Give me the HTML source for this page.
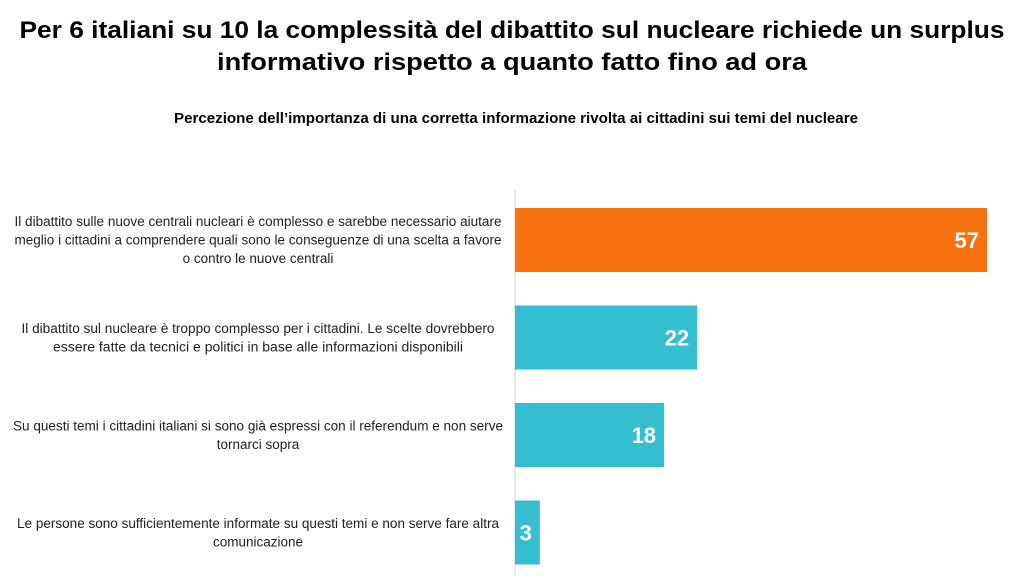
<!DOCTYPE html>
<html><head><meta charset="utf-8"><style>
body{margin:0;background:#fff;}
svg{display:block;font-family:"Liberation Sans",sans-serif;}
</style></head><body>
<svg id="chart" width="1024" height="576">
<text x="512" y="38" text-anchor="middle" font-size="24" font-weight="bold" fill="#000" textLength="985" lengthAdjust="spacingAndGlyphs">Per 6 italiani su 10 la complessità del dibattito sul nucleare richiede un surplus</text>
<text x="512" y="70" text-anchor="middle" font-size="24" font-weight="bold" fill="#000" textLength="590" lengthAdjust="spacingAndGlyphs">informativo rispetto a quanto fatto fino ad ora</text>
<text x="516" y="123" text-anchor="middle" font-size="14.5" font-weight="bold" fill="#000" textLength="684" lengthAdjust="spacingAndGlyphs">Percezione dell’importanza di una corretta informazione rivolta ai cittadini sui temi del nucleare</text>
<line x1="515" y1="190" x2="515" y2="576" stroke="#d0d0d0" stroke-width="1"/>
<g id="bars"></g>
<g id="labels"></g>
</svg>
<script>
const categories=[
 ["Il dibattito sulle nuove centrali nucleari è complesso e sarebbe necessario aiutare","meglio i cittadini a comprendere quali sono le conseguenze di una scelta a favore","o contro le nuove centrali"],
 ["Il dibattito sul nucleare è troppo complesso per i cittadini. Le scelte dovrebbero","essere fatte da tecnici e politici in base alle informazioni disponibili"],
 ["Su questi temi i cittadini italiani si sono già espressi con il referendum e non serve","tornarci sopra"],
 ["Le persone sono sufficientemente informate su questi temi e non serve fare altra","comunicazione"]
];
const values=[57,22,18,3];
const colors=["#F7720F","#34BFD0","#34BFD0","#34BFD0"];
const lineWidths=[[487,487,0],[473,410],[490,0],[482,0]];
const NS="http://www.w3.org/2000/svg";
const x0=515, scale=472/57, top0=208, step=97.5, bh=64;
const xs=v=>x0+v*scale;
const bars=document.getElementById('bars'), labels=document.getElementById('labels');
values.forEach((v,i)=>{
 const y=top0+i*step;
 const r=document.createElementNS(NS,'rect');
 r.setAttribute('x',x0);r.setAttribute('y',y);r.setAttribute('width',xs(v)-x0);r.setAttribute('height',bh);r.setAttribute('fill',colors[i]);
 
 
 bars.appendChild(r);
 const t=document.createElementNS(NS,'text');
 t.setAttribute('x',xs(v)-8);t.setAttribute('y',y+bh/2+8);t.setAttribute('text-anchor','end');
 t.setAttribute('font-size','22');t.setAttribute('font-weight','bold');t.setAttribute('fill','#fff');
 t.textContent=v;
 
 
 bars.appendChild(t);
 const lines=categories[i];
 const lh=18.5;
 const cy=y+bh/2;
 const startY=cy-(lines.length-1)*lh/2+4.5;
 lines.forEach((ln,j)=>{
  const tt=document.createElementNS(NS,'text');
  tt.setAttribute('x',258);tt.setAttribute('y',startY+j*lh);tt.setAttribute('text-anchor','middle');
  tt.setAttribute('font-size','13.5');tt.setAttribute('fill','#222');
  const w=lineWidths[i][j];
  if(w){tt.setAttribute('textLength',w);tt.setAttribute('lengthAdjust','spacingAndGlyphs');}
  tt.textContent=ln;
  
  
  labels.appendChild(tt);
 });
});
</script>
</body></html>
